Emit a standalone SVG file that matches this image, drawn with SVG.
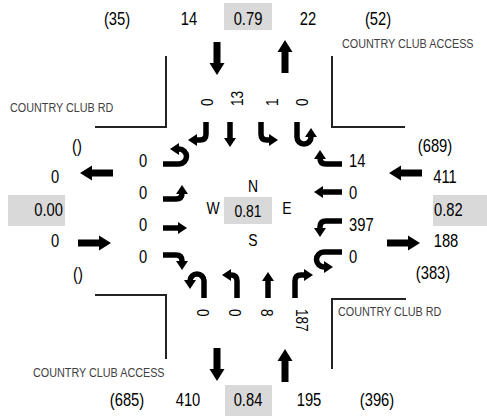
<svg xmlns="http://www.w3.org/2000/svg" width="487" height="416" viewBox="0 0 487 416">
<style>
text{font-family:"Liberation Sans",Arial,sans-serif;fill:#000}
.v{font-size:18px;text-anchor:middle}
.s{font-size:18px;text-anchor:start}
.e{font-size:18px;text-anchor:end}
.c{font-size:17px;text-anchor:middle}
.r{font-size:17px;text-anchor:start;dominant-baseline:central}
.lbl{font-size:13.5px;fill:#404040}
.box{fill:#d9d9d9}
.curb{fill:none;stroke:#222;stroke-width:2}
.ln{fill:none;stroke:#000;stroke-width:5.5;marker-end:url(#ah)}
</style>
<defs>
<marker id="ah" viewBox="0 0 9 12" refX="2" refY="6" markerWidth="9" markerHeight="12" markerUnits="userSpaceOnUse" orient="auto">
<path d="M0,0 L9,6 L0,12 Z" fill="#000"/>
</marker>
<path id="big" d="M0,-3.5 H21 V-7.5 L33,0 L21,7.5 V3.5 H0 Z" fill="#000"/>
</defs>

<g id="curbs">
<path class="curb" d="M166,56 V127 H95"/>
<path class="curb" d="M332,56 V127 H405"/>
<path class="curb" d="M95,295 H166 V359"/>
<path class="curb" d="M406,299 H332 V369"/>
</g>

<g id="labels">
<text class="lbl" transform="translate(10,112) scale(0.8,1)">COUNTRY CLUB RD</text>
<text class="lbl" transform="translate(342,48) scale(0.8,1)">COUNTRY CLUB ACCESS</text>
<text class="lbl" transform="translate(33,377) scale(0.8,1)">COUNTRY CLUB ACCESS</text>
<text class="lbl" transform="translate(338,316) scale(0.8,1)">COUNTRY CLUB RD</text>
</g>

<g id="connectors">
<use href="#big" transform="translate(217,42) rotate(90)"/>
<use href="#big" transform="translate(285,73) rotate(-90)"/>
<use href="#big" transform="translate(113,173) rotate(180)"/>
<use href="#big" transform="translate(78,243)"/>
<use href="#big" transform="translate(422,173) rotate(180)"/>
<use href="#big" transform="translate(387,243)"/>
<use href="#big" transform="translate(217,348) rotate(90)"/>
<use href="#big" transform="translate(285,382) rotate(-90)"/>

<path class="ln" d="M206,122 V134 Q206,140 200,140 H195"/>
<path class="ln" d="M230,122 V140"/>
<path class="ln" d="M261,122 V134 Q261,140 267,140 H271"/>
<path class="ln" d="M297,122 V137 A7,7 0 0 0 311,137 V135"/>

<path class="ln" d="M163,164 H179 A7.5,7.5 0 0 0 179,149 H177"/>
<path class="ln" d="M163,199 H176 Q182,199 182,193 V192"/>
<path class="ln" d="M163,228 H180"/>
<path class="ln" d="M163,255 H176 Q182,255 182,261 V263"/>

<path class="ln" d="M342,164 H326 Q320,164 320,158 V157"/>
<path class="ln" d="M342,192 H321"/>
<path class="ln" d="M342,221 H326 Q320,221 320,227 V230"/>
<path class="ln" d="M342,252 H324 A7.5,7.5 0 0 0 324,267 H326"/>

<path class="ln" d="M204,298 V281 A7,7 0 0 0 190,281 V282"/>
<path class="ln" d="M237,298 V281 Q237,275 231,275 H229"/>
<path class="ln" d="M268,298 V279"/>
<path class="ln" d="M295,298 V281 Q295,275 301,275 H306"/>
</g>

<g id="north">
<rect class="box" x="224" y="3" width="48" height="27"/>
<text class="v" transform="translate(117,25) scale(0.82,1)">(35)</text>
<text class="v" transform="translate(189,25) scale(0.82,1)">14</text>
<text class="v" transform="translate(248,25) scale(0.82,1)">0.79</text>
<text class="v" transform="translate(308,25) scale(0.82,1)">22</text>
<text class="v" transform="translate(378,25) scale(0.82,1)">(52)</text>
<text class="r" transform="translate(207,106) rotate(-90) scale(0.8,1)">0</text>
<text class="r" transform="translate(237,106) rotate(-90) scale(0.8,1)">13</text>
<text class="r" transform="translate(272,106) rotate(-90) scale(0.8,1)">1</text>
<text class="r" transform="translate(302,106) rotate(-90) scale(0.8,1)">0</text>
</g>

<g id="west">
<rect class="box" x="8" y="195" width="57" height="31"/>
<text class="v" transform="translate(77,152) scale(0.82,1)">()</text>
<text class="v" transform="translate(55,183) scale(0.82,1)">0</text>
<text class="e" transform="translate(63,216) scale(0.82,1)">0.00</text>
<text class="v" transform="translate(55,247) scale(0.82,1)">0</text>
<text class="v" transform="translate(78,280) scale(0.82,1)">()</text>
<text class="v" transform="translate(143,167) scale(0.82,1)">0</text>
<text class="v" transform="translate(143,199) scale(0.82,1)">0</text>
<text class="v" transform="translate(143,231) scale(0.82,1)">0</text>
<text class="v" transform="translate(143,263) scale(0.82,1)">0</text>
</g>

<g id="east">
<rect class="box" x="433" y="195" width="54" height="31"/>
<text class="v" transform="translate(435,152) scale(0.82,1)">(689)</text>
<text class="v" transform="translate(445,183) scale(0.82,1)">411</text>
<text class="s" transform="translate(434,216) scale(0.82,1)">0.82</text>
<text class="v" transform="translate(446,247) scale(0.82,1)">188</text>
<text class="v" transform="translate(433,279) scale(0.82,1)">(383)</text>
<text class="s" transform="translate(349,167) scale(0.82,1)">14</text>
<text class="s" transform="translate(349,199) scale(0.82,1)">0</text>
<text class="s" transform="translate(349,231) scale(0.82,1)">397</text>
<text class="s" transform="translate(349,263) scale(0.82,1)">0</text>
</g>

<g id="south">
<rect class="box" x="225" y="385" width="47" height="31"/>
<text class="v" transform="translate(127,406) scale(0.82,1)">(685)</text>
<text class="v" transform="translate(188,406) scale(0.82,1)">410</text>
<text class="v" transform="translate(248,406) scale(0.82,1)">0.84</text>
<text class="v" transform="translate(309,406) scale(0.82,1)">195</text>
<text class="v" transform="translate(377,406) scale(0.82,1)">(396)</text>
<text class="r" transform="translate(203,309) rotate(90) scale(0.8,1)">0</text>
<text class="r" transform="translate(235,309) rotate(90) scale(0.8,1)">0</text>
<text class="r" transform="translate(267,309) rotate(90) scale(0.8,1)">8</text>
<text class="r" transform="translate(302,309) rotate(90) scale(0.8,1)">187</text>
</g>

<g id="center">
<rect class="box" x="224" y="197" width="48" height="27"/>
<text class="c" transform="translate(253,192) scale(0.82,1)">N</text>
<text class="c" transform="translate(213,214) scale(0.82,1)">W</text>
<text class="c" transform="translate(248,217) scale(0.82,1)">0.81</text>
<text class="c" transform="translate(287,214) scale(0.82,1)">E</text>
<text class="c" transform="translate(253,246) scale(0.82,1)">S</text>
</g>
</svg>
